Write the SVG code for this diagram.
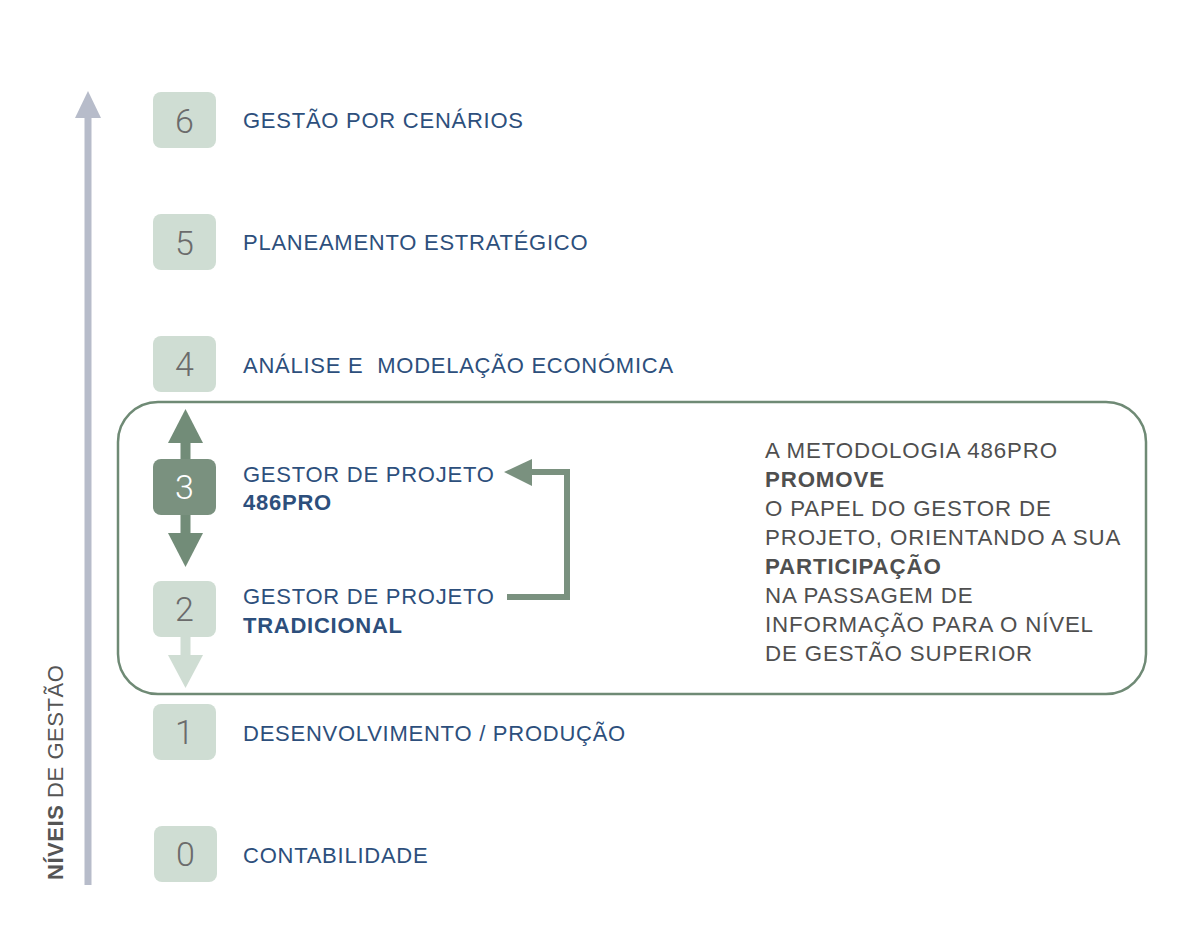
<svg xmlns="http://www.w3.org/2000/svg" width="1194" height="945" viewBox="0 0 1194 945">
<style>
.box{fill:#cfddd3}
.num{font-family:Roboto,"Liberation Sans",Arial,sans-serif;font-size:34px;fill:#6b6b6b;text-anchor:middle;font-weight:300}
.lbl{font-family:"Liberation Sans",Arial,sans-serif;font-size:22px;fill:#2d4f7c;letter-spacing:0.75px}
.b{font-weight:bold}
.note{font-family:"Liberation Sans",Arial,sans-serif;font-size:22.3px;fill:#4f4f4f;letter-spacing:0.85px}
</style>
<rect width="1194" height="945" fill="#ffffff"/>
<g id="axis">
<rect x="84.5" y="116" width="7" height="769" fill="#b7bcca"/>
<polygon points="88,91 101,118 75,118" fill="#b7bcca"/>
<text transform="translate(63,880) rotate(-90)" font-family="Liberation Sans, Arial, sans-serif" font-size="22" letter-spacing="0.55" fill="#555555"><tspan font-weight="bold">NÍVEIS</tspan> DE GESTÃO</text>
</g>
<g id="group-frame">
<rect x="118" y="402" width="1028" height="292" rx="40" fill="none" stroke="#6f8a75" stroke-width="2.5"/>
</g>
<g id="connectors">
<rect x="180.5" y="440" width="10" height="20" fill="#728c78"/>
<polygon points="185.5,409 203,443 168,443" fill="#728c78"/>
<rect x="180.5" y="514" width="10" height="20" fill="#728c78"/>
<polygon points="185.5,567 203,533 168,533" fill="#728c78"/>
<rect x="180.5" y="636" width="10" height="20" fill="#cfddd3"/>
<polygon points="185.5,688 203,655 168,655" fill="#cfddd3"/>
<polyline points="507,597 567,597 567,472 530,472" fill="none" stroke="#7a917f" stroke-width="6"/>
<polygon points="504,472 532,459 532,486" fill="#7a917f"/>
</g>
<g id="node-6"><rect class="box" x="153" y="92" width="63" height="56" rx="8"/><text class="num" x="184.5" y="132.5">6</text><text class="lbl" x="243" y="128">GESTÃO POR CENÁRIOS</text></g>
<g id="node-5"><rect class="box" x="153" y="214" width="63" height="56" rx="8"/><text class="num" x="184.5" y="254.5">5</text><text class="lbl" x="243" y="250">PLANEAMENTO ESTRATÉGICO</text></g>
<g id="node-4"><rect class="box" x="153" y="336" width="63" height="56" rx="8"/><text class="num" x="184.5" y="376">4</text><text class="lbl" x="243" y="373" xml:space="preserve">ANÁLISE E  MODELAÇÃO ECONÓMICA</text></g>
<g id="node-3"><rect x="153" y="459" width="63" height="56" rx="8" fill="#7a917f"/><text class="num" x="184.5" y="499" style="fill:#ffffff">3</text><text class="lbl" x="243" y="482">GESTOR DE PROJETO</text><text class="lbl b" x="243" y="510">486PRO</text></g>
<g id="node-2"><rect class="box" x="153" y="581" width="63" height="56" rx="8"/><text class="num" x="184.5" y="621">2</text><text class="lbl" x="243" y="604">GESTOR DE PROJETO</text><text class="lbl b" x="243" y="633">TRADICIONAL</text></g>
<g id="node-1"><rect class="box" x="153" y="704" width="63" height="56" rx="8"/><text class="num" x="184.5" y="744">1</text><text class="lbl" x="243" y="741">DESENVOLVIMENTO / PRODUÇÃO</text></g>
<g id="node-0"><rect class="box" x="154" y="826" width="63" height="56" rx="8"/><text class="num" x="185.5" y="866">0</text><text class="lbl" x="243" y="863">CONTABILIDADE</text></g>
<g id="note">
<text class="note" x="765" y="458">A METODOLOGIA 486PRO</text>
<text class="note b" x="765" y="487">PROMOVE</text>
<text class="note" x="765" y="516">O PAPEL DO GESTOR DE</text>
<text class="note" x="765" y="545">PROJETO, ORIENTANDO A SUA</text>
<text class="note b" x="765" y="574">PARTICIPAÇÃO</text>
<text class="note" x="765" y="603">NA PASSAGEM DE</text>
<text class="note" x="765" y="632">INFORMAÇÃO PARA O NÍVEL</text>
<text class="note" x="765" y="661">DE GESTÃO SUPERIOR</text>
</g>
</svg>
